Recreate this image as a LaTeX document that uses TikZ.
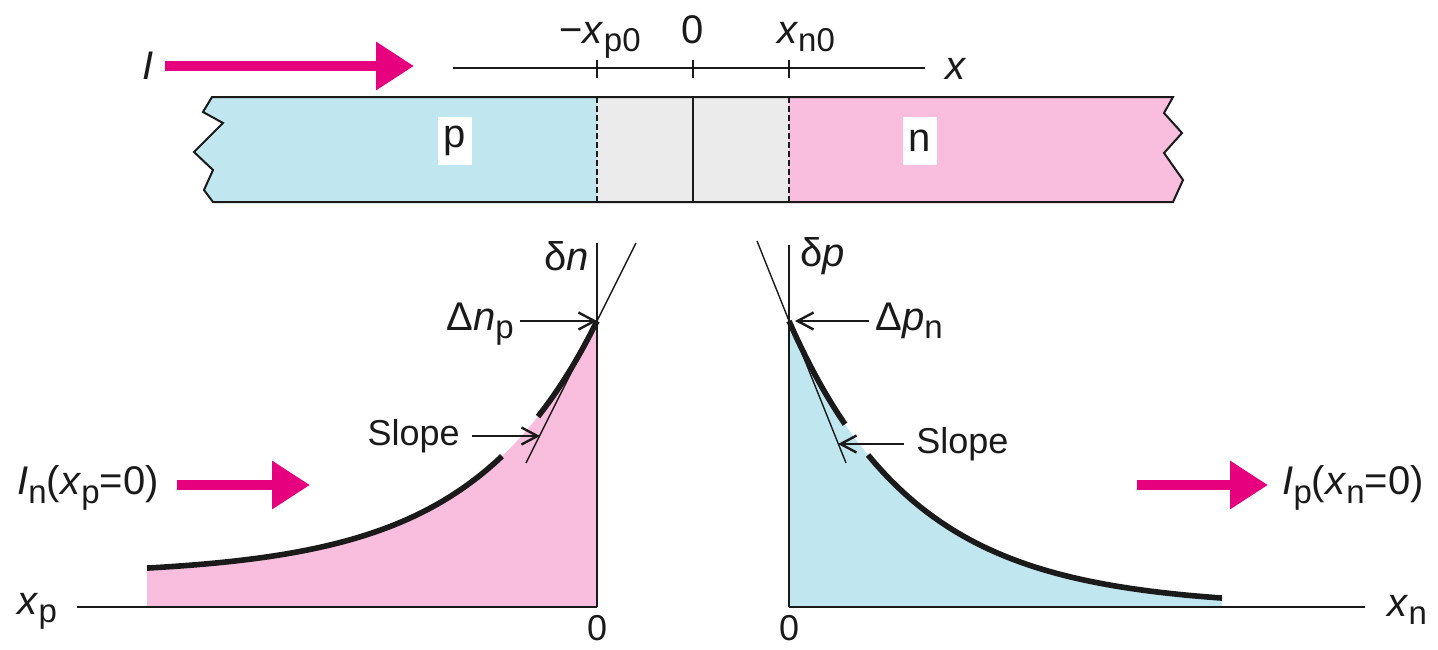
\documentclass[tikz,border=0pt]{standalone}
\usepackage{fontspec}
\setmainfont{Liberation Sans}
\usetikzlibrary{positioning,arrows.meta,calc}
\definecolor{current}{HTML}{E6007E}
\definecolor{pside}{HTML}{C0E6F0}
\definecolor{nside}{HTML}{F9BEDE}
\definecolor{depl}{HTML}{EBEBEB}
\definecolor{ink}{HTML}{1A1A1A}
\newcommand{\lo}[1]{\raisebox{-0.22em}{\fontsize{16.5}{18}\selectfont #1}}

\begin{document}
\begin{tikzpicture}[
  x=0.5pt, y=-0.5pt,
  lbl/.style={font=\fontsize{20}{22}\selectfont, text=ink, inner sep=1pt},
  note/.style={font=\fontsize{18}{20}\selectfont, text=ink, inner sep=1pt},
  axis/.style={line width=1pt, ink},
  curve/.style={line width=2.8pt, ink},
  tangent/.style={line width=0.7pt, ink},
  flow/.style={current, line width=5pt, -{Triangle[length=19pt,width=23pt]}},
  ptr/.style={line width=1.2pt, ink, -{Straight Barb[length=8pt,width=8.5pt]}},
]
  \useasboundingbox (0,0) rectangle (1438,649);

  % Current through the diode
  \node[lbl] (ilbl) at (148,66) {\itshape I};
  \coordinate (itail) at (165,66);
  \coordinate (ihead) at (414,66);
  \draw[flow] (itail) -- (ihead);

  % Position axis over the bar
  \draw[axis] (453,68) -- (925,68);
  \foreach \tx in {597,693,789}
    \draw[axis] (\tx,60) -- (\tx,78);
  \node[lbl, anchor=base] (xlbl) at (955,79) {\itshape x};
  \node[lbl, anchor=base] (xpzero) at (600,43) {\textminus\textit{x}\lo{p0}};
  \node[lbl, anchor=base] (zero) at (693,43) {0};
  \node[lbl, anchor=base] (xnzero) at (806,43) {\textit{x}\lo{n0}};

  % The bar: p side, depletion region, n side
  \fill[pside] (212,97) -- (597,97) -- (597,202) -- (213,202) -- (204,190) -- (213,170)
    -- (194,152) -- (223,123) -- (203,112) -- cycle;
  \fill[depl] (597,97) rectangle (789,202);
  \fill[nside] (789,97) -- (1173,97) -- (1164,113) -- (1182,133) -- (1164,153)
    -- (1183,180) -- (1173,202) -- (789,202) -- cycle;
  \draw[axis, line join=miter] (212,97) -- (1173,97) -- (1164,113) -- (1182,133) -- (1164,153)
    -- (1183,180) -- (1173,202) -- (213,202) -- (204,190) -- (213,170)
    -- (194,152) -- (223,123) -- (203,112) -- cycle;
  \draw[line width=0.7pt, ink, dash pattern=on 3pt off 1.5pt] (597,97) -- (597,202);
  \draw[line width=0.7pt, ink, dash pattern=on 3pt off 1.5pt] (789,97) -- (789,202);
  \draw[line width=0.7pt, ink] (693,97) -- (693,202);
  \node[lbl, fill=white, inner xsep=3pt, minimum height=24pt] (plbl) at (455,141) {p};
  \node[lbl, fill=white, inner xsep=3pt, minimum height=24pt] (nlbl) at (920,141) {n};

  % Minority carriers on the p side
  \coordinate (apexL) at (597,321);
  \fill[nside] (147,607) -- plot[domain=147:597, samples=60] (\x, {607-(254*exp(-(597-\x)/125)+32)}) -- (597,607) -- cycle;
  \draw[curve] plot[domain=147:502, samples=50] (\x, {607-(254*exp(-(597-\x)/125)+32)});
  \draw[curve] plot[domain=538:597, samples=20] (\x, {607-(254*exp(-(597-\x)/125)+32)});
  \draw[axis] (597,243) -- (597,607);
  \draw[axis] (77,607) -- (597,607);
  \draw[tangent] (636,243) -- (526,463);
  \node[lbl, anchor=east] (dn) at (591,256) {δ\textit{n}};
  \node[lbl, anchor=base east] (dnp) at (516,330) {Δ\textit{n}\lo{p}};
  \draw[ptr] ([xshift=2pt]dnp.east |- apexL) -- (apexL);
  \node[note, anchor=east] (slopeL) at (462,436) {Slope};
  \coordinate (tipL) at (540,436);
  \draw[ptr] ([xshift=5pt]slopeL.east) -- (tipL);
  \node[lbl, anchor=base west] (xp) at (15,614) {\textit{x}\lo{p}};
  \node[note, inner sep=0pt] (zeroL) at (597,628) {0};
  \node[lbl] (inlbl) at (88,488) {\textit{I}\lo{n}(\textit{x}\lo{p}=0)};
  \coordinate (intail) at (177,485);
  \coordinate (inhead) at (310,485);
  \draw[flow] (intail) -- (inhead);

  % Minority carriers on the n side
  \coordinate (apexR) at (789,321);
  \fill[pside] (789,607) -- plot[domain=789:1222, samples=60] (\x, {607-286*exp(-(\x-789)/125)}) -- (1222,607) -- cycle;
  \draw[curve] plot[domain=789:845, samples=20] (\x, {607-286*exp(-(\x-789)/125)});
  \draw[curve] plot[domain=868:1222, samples=50] (\x, {607-286*exp(-(\x-789)/125)});
  \draw[axis] (789,245) -- (789,607);
  \draw[axis] (789,607) -- (1365,607);
  \draw[tangent] (757,241) -- (846,463);
  \node[lbl, anchor=west] (dp) at (798,256) {δ\textit{p}};
  \node[lbl, anchor=base west] (dpn) at (873,330) {Δ\textit{p}\lo{n}};
  \draw[ptr] ([xshift=-2pt]dpn.west |- apexR) -- ([xshift=3pt]apexR);
  \node[note, anchor=west] (slopeR) at (914,444) {Slope};
  \coordinate (tipR) at (838,444);
  \draw[ptr] ([xshift=-5pt]slopeR.west) -- (tipR);
  \node[lbl, anchor=base west] (xn) at (1385,616) {\textit{x}\lo{n}};
  \node[note, inner sep=0pt] (zeroR) at (789,628) {0};
  \node[lbl] (iplbl) at (1353,488) {\textit{I}\lo{p}(\textit{x}\lo{n}=0)};
  \coordinate (iptail) at (1137,485);
  \coordinate (iphead) at (1268,485);
  \draw[flow] (iptail) -- (iphead);
\end{tikzpicture}
\end{document}
